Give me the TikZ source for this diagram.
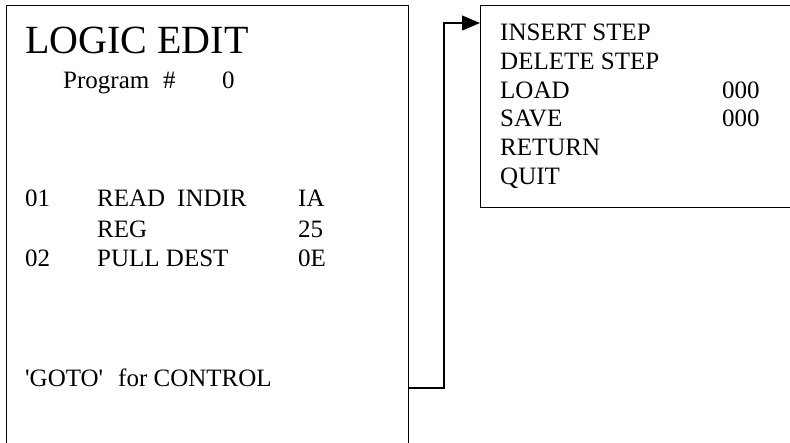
\documentclass[tikz,border=0pt]{standalone}
\usepackage{fontspec}
\setmainfont{Liberation Serif}
\usetikzlibrary{arrows.meta,calc}
\begin{document}
\begin{tikzpicture}[x=1pt,y=-1pt,
  panel/.style={draw,line width=1.3pt,rectangle,inner sep=0pt,anchor=north west},
  txt/.style={anchor=base west,inner sep=0pt,font=\fontsize{25}{30}\selectfont},
  bigtxt/.style={anchor=base west,inner sep=0pt,font=\fontsize{40}{48}\selectfont},
  link/.style={line width=1.3pt,-{Triangle[length=18pt,width=15pt]}}]
\clip (0,0) rectangle (790,442);
\fill[white] (0,0) rectangle (790,442);
% panels
\node[panel,minimum width=402pt,minimum height=460pt] (leftbox) at (6,5) {};
\node[panel,minimum width=330pt,minimum height=202pt] (rightbox) at (480,5) {};
% left texts
\node[bigtxt] (title) at (25,53) {LOGIC EDIT};
\node[txt] (prog) at (63,88) {Program};
\node[txt] (hash) at (163,88) {\#};
\node[txt] (pnum) at (222,88) {0};
\node[txt] (n01) at (25,206) {01};
\node[txt] (read) at (97,206) {READ};
\node[txt] (indir) at (177,206) {INDIR};
\node[txt] (ia) at (298,206) {IA};
\node[txt] (reg) at (97,237) {REG};
\node[txt] (v25) at (298,237) {25};
\node[txt] (n02) at (25,266) {02};
\node[txt] (pull) at (97,266) {PULL DEST};
\node[txt] (oe) at (298,266) {0E};
\node[txt] (goto) at (25,386) {\textquotesingle GOTO\textquotesingle};
\node[txt] (forc) at (118,386) {for CONTROL};
% right texts
\node[txt] (ins) at (500,40) {INSERT STEP};
\node[txt] (del) at (500,69) {DELETE STEP};
\node[txt] (load) at (500,98) {LOAD};
\node[txt] (loadv) at (722,98) {000};
\node[txt] (save) at (500,126) {SAVE};
\node[txt] (savev) at (722,126) {000};
\node[txt] (ret) at (500,155) {RETURN};
\node[txt] (quit) at (500,184) {QUIT};
% connector
\coordinate (start) at ($(leftbox.north east)+(0,383)$);
\coordinate (turn) at (444,388);
\coordinate (endp) at ($(rightbox.north west)+(0,18)$);
\draw[link] (start) -- (turn) |- (endp);
\end{tikzpicture}
\end{document}
